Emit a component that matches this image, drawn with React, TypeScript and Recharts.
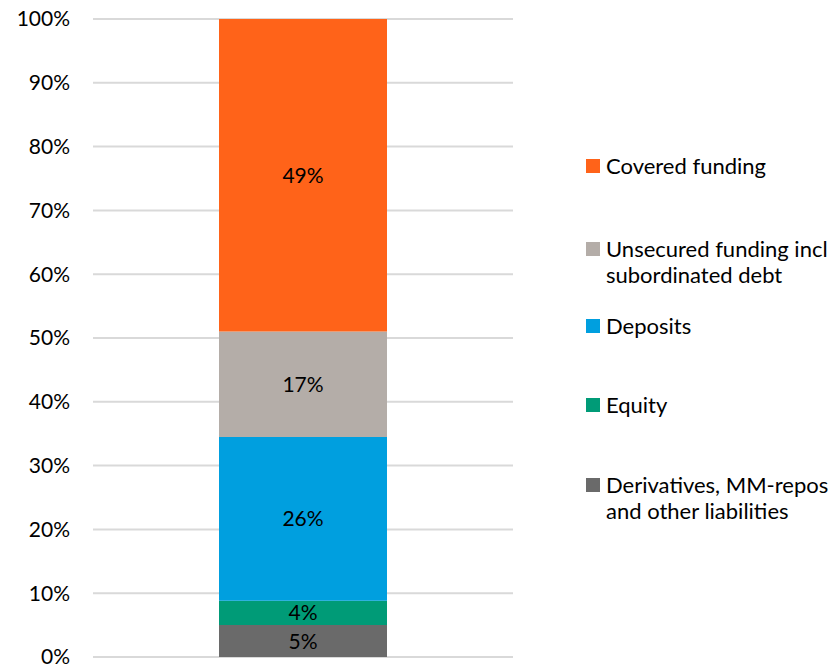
import React from 'react';
import { BarChart, Bar, XAxis, YAxis, CartesianGrid, LabelList } from 'recharts';

const categories = ['Funding structure'];
const seriesKeys = ['derivatives', 'equity', 'deposits', 'unsecured', 'covered'];
const seriesNames = [
  'Derivatives, MM-repos\nand other liabilities',
  'Equity',
  'Deposits',
  'Unsecured funding incl\nsubordinated debt',
  'Covered funding',
];
const seriesValues = [0.05, 0.038, 0.257, 0.165, 0.49];
const seriesColors = ['#6A6A6A', '#009B77', '#009FDF', '#B4ADA8', '#FF6319'];
const yTicks = [0, 0.1, 0.2, 0.3, 0.4, 0.5, 0.6, 0.7, 0.8, 0.9, 1];

const data = categories.map((c) => {
  const row: Record<string, number | string> = { category: c };
  seriesKeys.forEach((k, i) => {
    row[k] = seriesValues[i];
  });
  return row;
});

const FONT = 'Lato, "Open Sans", sans-serif';
const FS = 21;
const LFS = 22;

// legend vertical centers (first line) for legend entries top-to-bottom
const legendOrder = [4, 3, 2, 1, 0];
const legendCenters = [166, 249, 326, 405, 485];

const pct = (v: number) => `${Math.round(v * 100)}%`;

export default function App() {
  return (
    <div
      style={{
        position: 'absolute',
        left: 0,
        top: 0,
        width: 834,
        height: 666,
        fontFamily: FONT,
        background: '#fff',
        overflow: 'hidden',
      }}
    >
      <BarChart
        width={834}
        height={666}
        data={data}
        margin={{ top: 19, right: 321, bottom: 9, left: 0 }}
        barCategoryGap="30%"
      >
        <CartesianGrid vertical={false} stroke="#D9D9D9" strokeWidth={2} />
        <XAxis dataKey="category" hide />
        <YAxis
          width={93}
          domain={[0, 1]}
          ticks={yTicks}
          tickFormatter={pct}
          axisLine={false}
          tickLine={false}
          tickSize={0}
          tickMargin={23}
          tick={{ fill: '#000', fontSize: FS, fontFamily: FONT }}
          interval={0}
        />
        {seriesKeys.map((k, i) => (
          <Bar
            key={k}
            dataKey={k}
            name={seriesNames[i]}
            stackId="a"
            fill={seriesColors[i]}
            isAnimationActive={false}
          >
            <LabelList
              dataKey={k}
              position="center"
              formatter={(v: any) => pct(Number(v))}
              fill="#000"
              fontSize={FS}
              fontFamily={FONT}
            />
          </Bar>
        ))}
      </BarChart>
      {legendOrder.map((si, j) => (
        <div
          key={si}
          style={{
            position: 'absolute',
            left: 586,
            top: legendCenters[j] - 13,
            display: 'flex',
            alignItems: 'flex-start',
            whiteSpace: 'pre',
            fontSize: LFS,
            lineHeight: '26px',
            color: '#000',
          }}
        >
          <div
            style={{
              width: 14,
              height: 14,
              background: seriesColors[si],
              marginTop: 6,
              marginRight: 6,
              flex: 'none',
            }}
          />
          <div>{seriesNames[si]}</div>
        </div>
      ))}
    </div>
  );
}
